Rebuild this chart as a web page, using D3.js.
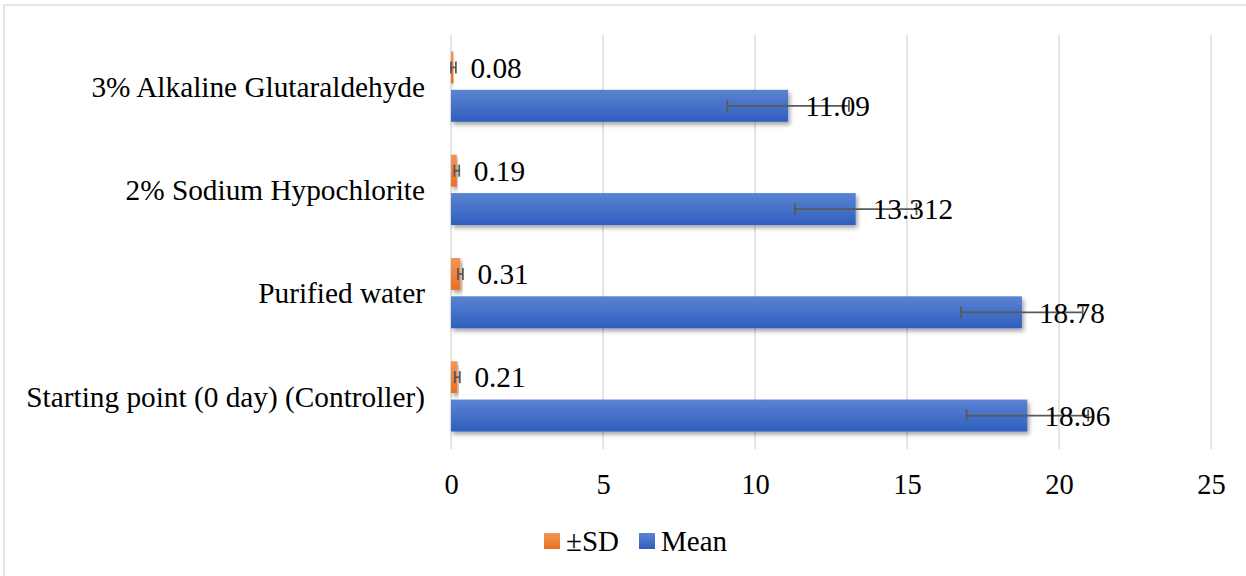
<!DOCTYPE html>
<html><head><meta charset="utf-8">
<script src="https://cdn.jsdelivr.net/npm/d3@7"></script>
<style>body{margin:0;background:#fff;}svg{display:block;} svg text{font-family:"Liberation Serif","Times New Roman",Tinos,serif !important;}</style>
</head><body>
<script>
const categories = ["3% Alkaline Glutaraldehyde","2% Sodium Hypochlorite","Purified water","Starting point (0 day) (Controller)"];
const meanValues = [11.09, 13.312, 18.78, 18.96];
const meanLabels = ["11.09","13.312","18.78","18.96"];
const sdValues = [0.08, 0.19, 0.31, 0.21];
const sdLabels = ["0.08","0.19","0.31","0.21"];
const meanError = [2, 2, 2, 2];
const sdError = [0.08, 0.08, 0.08, 0.08];
const xTicks = [0,5,10,15,20,25];
const seriesNames = ["±SD","Mean"];

const W=1246,H=576;
const svg=d3.select("body").append("svg").attr("width",W).attr("height",H);
const defs=svg.append("defs");
function grad(id,c1,c2){const g=defs.append("linearGradient").attr("id",id).attr("x1",0).attr("y1",0).attr("x2",0).attr("y2",1);
 g.append("stop").attr("offset","0%").attr("stop-color",c1);g.append("stop").attr("offset","100%").attr("stop-color",c2);}
grad("gBlue","#5b83d3","#2f5fbe");
grad("gOrange","#f3955a","#e8711f");
const f=defs.append("filter").attr("id","shadow").attr("x","-10%").attr("y","-20%").attr("width","130%").attr("height","160%");
f.append("feDropShadow").attr("dx",2).attr("dy",3).attr("stdDeviation",2).attr("flood-color","#000").attr("flood-opacity",0.35);

svg.append("rect").attr("x",4).attr("y",5).attr("width",W+10).attr("height",H+10).attr("fill","none").attr("stroke","#d9d9d9").attr("stroke-width",1.3);

const x=d3.scaleLinear().domain([0,25]).range([451,1211]);
const y=d3.scaleBand().domain(categories).range([35,448]).paddingInner(0).paddingOuter(0);
const bw=y.bandwidth();
const h=bw/3.23, gap=h*0.2, outer=(bw-2*h-gap)/2;

// gridlines
svg.append("g").selectAll("line").data(xTicks).join("line")
 .attr("x1",d=>x(d)).attr("x2",d=>x(d)).attr("y1",35).attr("y2",449)
 .attr("stroke","#d9d9d9").attr("stroke-width",1.4);

// axis labels
const ax=svg.append("g").attr("transform","translate(0,484)").call(d3.axisBottom(x).tickValues(xTicks).tickSize(0).tickPadding(0));
ax.attr("font-family",null).attr("font-size",null);
ax.select(".domain").remove();
ax.selectAll("text").attr("font-size",28.5).attr("fill","#000").attr("dy","0.35em");

// category labels
svg.append("g").selectAll("text").data(categories).join("text")
 .attr("x",425).attr("y",d=>y(d)+bw/2).attr("dy","0.35em").attr("text-anchor","end")
 .attr("font-size",29.3).attr("fill","#000").text(d=>d);

const sdY=d=>y(d)+outer, meanY=d=>y(d)+outer+h+gap;

// SD bars
svg.append("g").selectAll("rect").data(categories).join("rect")
 .attr("x",x(0)).attr("y",d=>sdY(d)).attr("width",(d,i)=>x(sdValues[i])-x(0)).attr("height",h)
 .attr("fill","url(#gOrange)").attr("filter","url(#shadow)");
// Mean bars
svg.append("g").selectAll("rect").data(categories).join("rect")
 .attr("x",x(0)).attr("y",d=>meanY(d)).attr("width",(d,i)=>x(meanValues[i])-x(0)).attr("height",h)
 .attr("fill","url(#gBlue)").attr("filter","url(#shadow)");

// error bars
function errBars(vals,errs,yf,cap){
 const g=svg.append("g").attr("stroke","#595959").attr("stroke-width",1.8);
 categories.forEach((c,i)=>{
  const cy=yf(c)+h/2, x1=x(vals[i]-errs[i]), x2=x(vals[i]+errs[i]);
  g.append("line").attr("x1",x1).attr("x2",x2).attr("y1",cy).attr("y2",cy);
  g.append("line").attr("x1",x1).attr("x2",x1).attr("y1",cy-cap).attr("y2",cy+cap);
  g.append("line").attr("x1",x2).attr("x2",x2).attr("y1",cy-cap).attr("y2",cy+cap);
 });
}
errBars(sdValues,sdError,sdY,6);
errBars(meanValues,meanError,meanY,6);

// data labels
svg.append("g").selectAll("text").data(categories).join("text")
 .attr("x",(d,i)=>x(sdValues[i])+17).attr("y",d=>sdY(d)+h/2).attr("dy","0.35em")
 .attr("font-size",29.3).attr("fill","#000").text((d,i)=>sdLabels[i]);
svg.append("g").selectAll("text").data(categories).join("text")
 .attr("x",(d,i)=>x(meanValues[i])+17).attr("y",d=>meanY(d)+h/2).attr("dy","0.35em")
 .attr("font-size",29.3).attr("fill","#000").text((d,i)=>meanLabels[i]);

// legend
const lg=svg.append("g").attr("transform","translate(0,541)");
const items=[{n:seriesNames[0],f:"url(#gOrange)",x:544},{n:seriesNames[1],f:"url(#gBlue)",x:639}];
items.forEach(it=>{
 lg.append("rect").attr("x",it.x).attr("y",-8).attr("width",16).attr("height",16).attr("fill",it.f);
 lg.append("text").attr("x",it.x+22).attr("y",0).attr("dy","0.35em").attr("font-size",29).attr("fill","#000").text(it.n);
});
</script>
</body></html>
